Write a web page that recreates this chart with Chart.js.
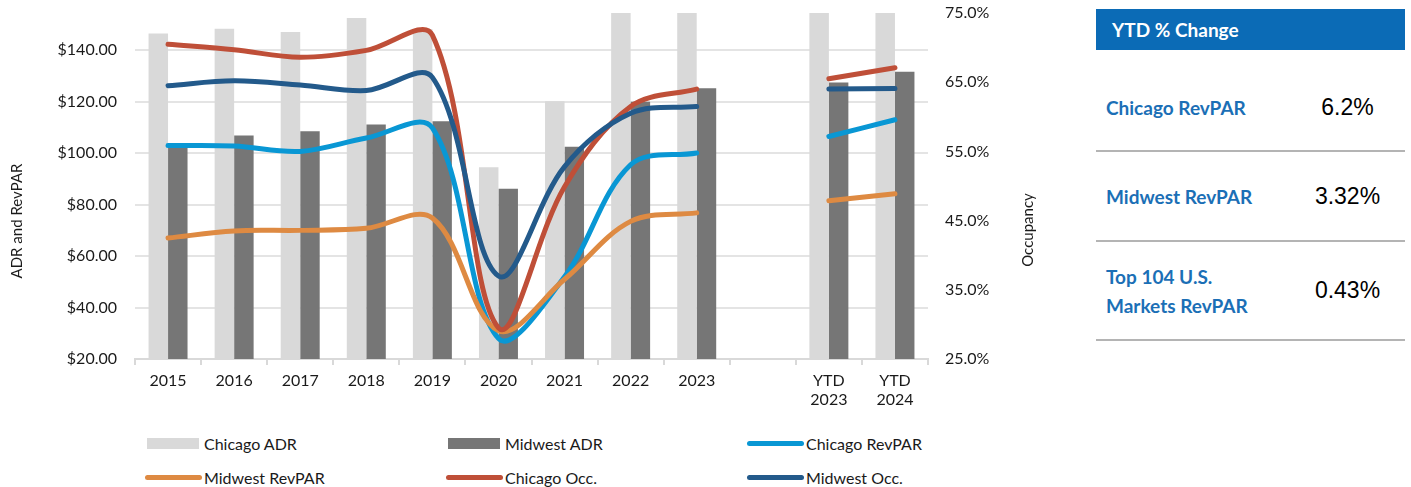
<!DOCTYPE html>
<html>
<head>
<meta charset="utf-8">
<title>Chicago vs Midwest hotel performance</title>
<script src="https://cdn.jsdelivr.net/npm/chart.js@4.4.1/dist/chart.umd.min.js"></script>
<style>
  body { margin: 0; background: #fff; font-family: Lato, sans-serif; color: #1a1a1a; }
  #wrap { position: relative; width: 1411px; height: 487px; overflow: hidden; }
  #chartBox { position: absolute; left: 0; top: 0; width: 1060px; height: 420px; }

  #legend {
    position: absolute; left: 145px; top: 426px;
    display: grid; grid-template-columns: 301px 301px 301px; grid-auto-rows: 34px;
    font-size: 16px;
  }
  .item { display: flex; align-items: center; }
  .swatch { width: 59px; display: flex; align-items: center; }
  .swatch .box { width: 52px; height: 11px; margin-left: 2px; }
  .swatch .line { width: 57px; height: 5px; border-radius: 3px; }

  #ytd { position: absolute; left: 1096px; top: 9px; width: 309px; }
  #ytd .head {
    height: 41px; background: #0b6bb6; color: #fff; font-weight: 700;
    font-size: 19px; display: flex; align-items: center; padding-left: 16px;
  }
  #ytd .row {
    position: absolute; left: 0; width: 309px; display: flex; align-items: center;
    border-bottom: 2px solid #b4b4b4;
  }
  #ytd .label { width: 184px; padding-left: 10px; color: #1b6fb6; font-weight: 700; font-size: 19px; line-height: 29px; }
  #ytd .val { width: 115px; text-align: center; font-family: "Liberation Sans", Arial, sans-serif; font-size: 23px; color: #000; }
</style>
</head>
<body>
<div id="wrap">
  <div id="chartBox"><canvas id="perfChart" width="1060" height="420"></canvas></div>
  <div id="legend"></div>
  <div id="ytd">
    <div class="head">YTD % Change</div>
  </div>
</div>

<script>
const categories = ['2015', '2016', '2017', '2018', '2019', '2020', '2021', '2022', '2023', '', ['YTD', '2023'], ['YTD', '2024']];

// dollars, left axis
const chicagoADR    = [146.5, 148.4, 147.1, 152.6, 148.3, 94.5, 120.2, 154.6, 158.0, null, 160.0, 161.0];
const midwestADR    = [103.5, 106.9, 108.5, 111.2, 112.4, 86.2, 102.5, 120.0, 125.2, null, 127.5, 131.7];
const chicagoRevPAR = [103.0, 102.8, 100.7, 105.9, 109.8, 28.0, 52.0, 95.5, 100.1, null, 106.5, 113.0];
const midwestRevPAR = [67.0, 69.8, 70.0, 70.8, 74.8, 31.0, 51.0, 73.5, 76.8, null, 81.5, 84.2];

// percent, right axis
const chicagoOcc = [70.5, 69.7, 68.6, 69.6, 71.8, 29.5, 49.9, 61.5, 64.0, null, 65.5, 67.1];
const midwestOcc = [64.5, 65.2, 64.6, 63.8, 65.7, 37.0, 52.8, 60.5, 61.5, null, 64.0, 64.1];

const dollarTicks = [20, 40, 60, 80, 100, 120, 140];
const occTicks = [25, 35, 45, 55, 65, 75];

const ytdLabels = ['Chicago RevPAR', 'Midwest RevPAR', 'Top 104 U.S.<br>Markets RevPAR'];
const ytdValues = ['6.2%', '3.32%', '0.43%'];

const CHART_W = 1060;
const PLOT_LEFT = 135, PLOT_RIGHT = 928, PLOT_BOTTOM = 359;
const TEXT = '#1a1a1a';

Chart.defaults.font.family = 'Lato';
Chart.defaults.font.size = 16;
Chart.defaults.color = TEXT;

function lineSet(label, data, color, axis, order) {
    return {
        type: 'line', label, data, yAxisID: axis, order,
        borderColor: color, backgroundColor: color,
        borderWidth: 5, borderCapStyle: 'round', borderJoinStyle: 'round',
        pointRadius: 0, tension: 0.35, spanGaps: false
    };
}

// keep the plot box fixed: no extra room for half-height edge labels
function noEdgePadding(s) {
    s.paddingTop = 0;
    s.paddingBottom = 0;
    s.paddingLeft = 0;
    s.paddingRight = 0;
}

// both axis titles read bottom-to-top, so draw them by hand
const axisTitles = {
    id: 'axisTitles',
    afterDraw(chart) {
        const ctx = chart.ctx;
        ctx.save();
        ctx.font = '15px Lato';
        ctx.fillStyle = TEXT;
        ctx.textAlign = 'center';
        ctx.textBaseline = 'middle';
        [['ADR and RevPAR', 17, 221], ['Occupancy', 1028, 230]].forEach(([txt, x, y]) => {
            ctx.save();
            ctx.translate(x, y);
            ctx.rotate(-Math.PI / 2);
            ctx.fillText(txt, 0, 0);
            ctx.restore();
        });
        ctx.restore();
    }
};

const perfChart = new Chart(document.getElementById('perfChart'), {
    type: 'bar',
    data: {
        labels: categories,
        datasets: [
            { label: 'Chicago ADR', data: chicagoADR, backgroundColor: '#d9d9d9', yAxisID: 'y', order: 5,
              categoryPercentage: 0.59, barPercentage: 1 },
            { label: 'Midwest ADR', data: midwestADR, backgroundColor: '#767676', yAxisID: 'y', order: 6,
              categoryPercentage: 0.59, barPercentage: 1 },
            lineSet('Chicago RevPAR', chicagoRevPAR, '#0997d4', 'y', 4),
            lineSet('Midwest RevPAR', midwestRevPAR, '#de8a42', 'y', 3),
            lineSet('Chicago Occ.', chicagoOcc, '#bf4f38', 'y1', 2),
            lineSet('Midwest Occ.', midwestOcc, '#235a8b', 'y1', 1)
        ]
    },
    options: {
        responsive: false,
        animation: false,
        layout: { padding: { top: 13, left: 0, right: 0, bottom: 0 } },
        plugins: { legend: { display: false }, tooltip: { enabled: false } },
        scales: {
            x: {
                grid: { drawOnChartArea: false, drawTicks: true, tickLength: 6, color: '#d9d9d9', lineWidth: 2 },
                border: { color: '#d9d9d9', width: 2 },
                ticks: { color: TEXT, padding: 6, maxRotation: 0, autoSkip: false },
                afterFit(s) { noEdgePadding(s); s.height = 420 - PLOT_BOTTOM; }
            },
            y: {
                position: 'left', min: 20, max: 154.5,
                afterBuildTicks(s) { s.ticks = dollarTicks.map(v => ({ value: v })); },
                grid: { color: '#e4e4e4', lineWidth: 2, drawTicks: false },
                border: { display: false },
                ticks: { padding: 18, color: TEXT, callback: v => '$' + v.toFixed(2) },
                afterFit(s) { noEdgePadding(s); s.width = PLOT_LEFT; }
            },
            y1: {
                position: 'right', min: 25, max: 75,
                afterBuildTicks(s) { s.ticks = occTicks.map(v => ({ value: v })); },
                grid: { drawOnChartArea: false, drawTicks: false },
                border: { display: false },
                ticks: { padding: 17, color: TEXT, callback: v => v.toFixed(1) + '%' },
                afterFit(s) { noEdgePadding(s); s.width = CHART_W - PLOT_RIGHT; }
            }
        }
    },
    plugins: [axisTitles]
});

// legend in three fixed columns, in series order
const legendEl = document.getElementById('legend');
perfChart.data.datasets.forEach(ds => {
    const isBar = ds.type !== 'line';
    const item = document.createElement('div');
    item.className = 'item';
    item.innerHTML = '<span class="swatch"><span class="' + (isBar ? 'box' : 'line') +
        '" style="background:' + (isBar ? ds.backgroundColor : ds.borderColor) + '"></span></span>' +
        '<span>' + ds.label + '</span>';
    legendEl.appendChild(item);
});

// YTD change table
const ytdEl = document.getElementById('ytd');
const rowBoxes = [[55, 86], [143, 88], [233, 97]];
ytdLabels.forEach((lab, i) => {
    const row = document.createElement('div');
    row.className = 'row';
    row.style.top = rowBoxes[i][0] + 'px';
    row.style.height = rowBoxes[i][1] + 'px';
    row.innerHTML = '<div class="label">' + lab + '</div><div class="val">' + ytdValues[i] + '</div>';
    ytdEl.appendChild(row);
});
</script>
</body>
</html>
